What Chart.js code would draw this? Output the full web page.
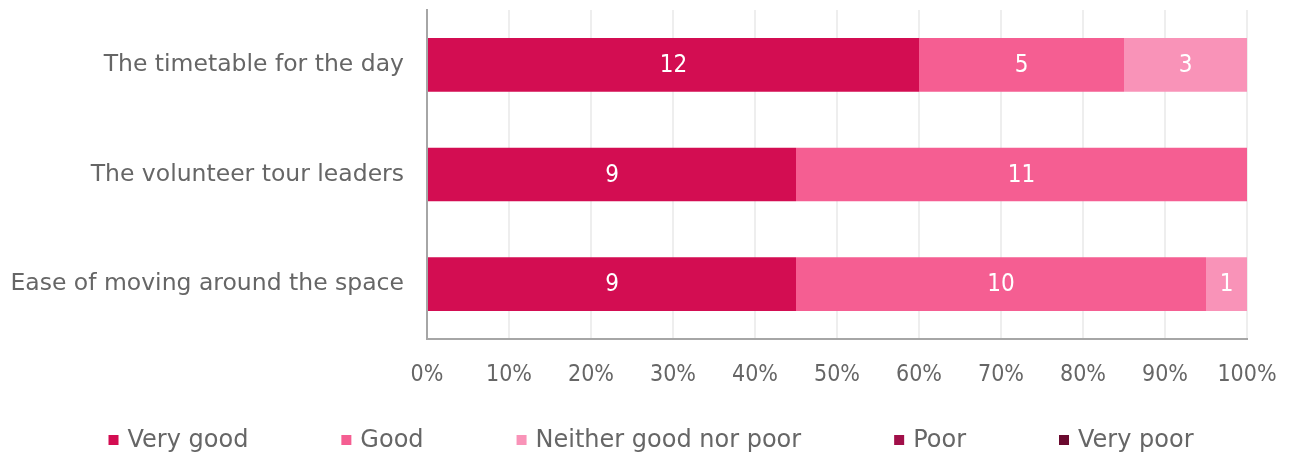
<!DOCTYPE html>
<html>
<head>
<meta charset="utf-8">
<script src="https://cdn.jsdelivr.net/npm/chart.js@4/dist/chart.umd.min.js"></script>
<style>
  html, body { margin: 0; padding: 0; background: #fff; }
  #wrap { width: 1293px; height: 456px; position: relative; }
</style>
</head>
<body>
<div id="wrap"><canvas id="chart"></canvas></div>
<script>
// Kategoriler ve seriler
const categories = ['The timetable for the day', 'The volunteer tour leaders', 'Ease of moving around the space'];
const veryGood = [12, 9, 9];
const good = [5, 11, 10];
const neither = [3, 0, 1];
const poor = [0, 0, 0];
const veryPoor = [0, 0, 0];
const tickLabels = ['0%', '10%', '20%', '30%', '40%', '50%', '60%', '70%', '80%', '90%', '100%'];

const seriesNames = ['Very good', 'Good', 'Neither good nor poor', 'Poor', 'Very poor'];
const seriesCounts = [veryGood, good, neither, poor, veryPoor];
const seriesColors = ['#d30d52', '#f55e92', '#f993b8', '#a10f49', '#6b0a2f'];

const totals = categories.map((c, i) => seriesCounts.reduce((s, arr) => s + arr[i], 0));
const FONT = "'DejaVu Sans', sans-serif";
const FONT_C = "'DejaVu Sans Condensed', 'DejaVu Sans', sans-serif";
const TEXT = '#666666';

// Bar içi değer etiketleri
const valueLabels = {
    id: 'valueLabels',
    afterDatasetsDraw(chart) {
        const ctx = chart.ctx;
        ctx.save();
        ctx.fillStyle = '#ffffff';
        ctx.font = '24px ' + FONT_C;
        ctx.textAlign = 'center';
        ctx.textBaseline = 'middle';
        chart.data.datasets.forEach((ds, di) => {
            const meta = chart.getDatasetMeta(di);
            meta.data.forEach((bar, i) => {
                const count = ds.counts[i];
                if (!count) return;
                ctx.fillText(String(count), (bar.x + bar.base) / 2, bar.y + 1);
            });
        });
        ctx.restore();
    }
};

// Alt lejant (Excel tarzı geniş aralıklı)
const bottomLegend = {
    id: 'bottomLegend',
    afterDraw(chart) {
        const ctx = chart.ctx;
        const gap = 93, box = 10, boxGap = 9, y = 440;
        ctx.save();
        ctx.font = '24px ' + FONT;
        ctx.textBaseline = 'middle';
        const widths = seriesNames.map(n => ctx.measureText(n).width);
        const total = widths.reduce((s, w) => s + box + boxGap + w, 0) + gap * (seriesNames.length - 1);
        let x = 651 - total / 2;
        seriesNames.forEach((n, k) => {
            ctx.fillStyle = seriesColors[k];
            ctx.fillRect(x, y - box / 2, box, box);
            ctx.fillStyle = TEXT;
            ctx.fillText(n, x + box + boxGap, y + 1);
            x += box + boxGap + widths[k] + gap;
        });
        ctx.restore();
    }
};

new Chart(document.getElementById('chart'), {
    type: 'bar',
    data: {
        labels: categories,
        datasets: seriesNames.map((name, k) => ({
            label: name,
            counts: seriesCounts[k],
            data: seriesCounts[k].map((v, i) => v / totals[i] * 100),
            backgroundColor: seriesColors[k],
            borderWidth: 0,
            barPercentage: 0.49,
            categoryPercentage: 1
        }))
    },
    options: {
        indexAxis: 'y',
        responsive: true, maintainAspectRatio: false,
        animation: false,
        layout: { padding: { left: 0, right: 46, top: 10, bottom: 56 } },
        plugins: {
            tooltip: { enabled: false },
            legend: { display: false }
        },
        scales: {
            x: {
                stacked: true, min: 0, max: 100,
                afterFit: s => { s.height = 61; s.paddingLeft = 0; s.paddingRight = 0; },
                grid: { color: '#eeeeee', lineWidth: 2, drawTicks: false },
                border: { color: '#a6a6a6', width: 2 },
                ticks: {
                    stepSize: 10, padding: 22, maxRotation: 0, autoSkip: false,
                    color: TEXT, font: { family: FONT_C, size: 23 },
                    callback: (v, i) => tickLabels[i]
                }
            },
            y: {
                stacked: true,
                afterFit: s => { s.width = 427; s.paddingTop = 0; s.paddingBottom = 0; },
                grid: { display: false, drawTicks: false },
                border: { color: '#a6a6a6', width: 2 },
                ticks: { padding: 23, color: TEXT, font: { family: FONT, size: 23.5 } }
            }
        }
    },
    plugins: [valueLabels, bottomLegend]
});
</script>
</body>
</html>
